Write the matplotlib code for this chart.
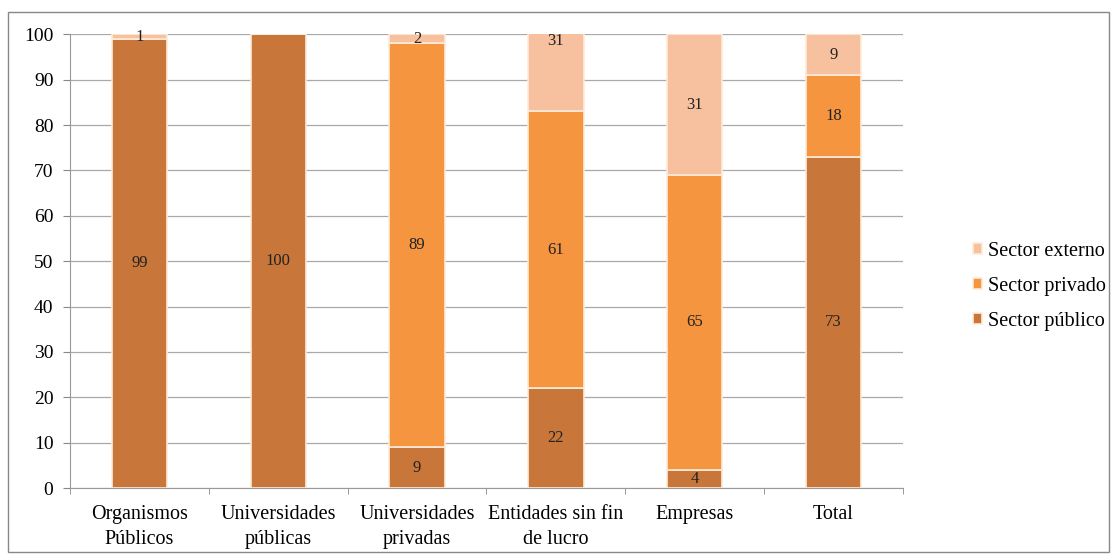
import matplotlib.pyplot as plt
from matplotlib.patches import Rectangle
import numpy as np

categories = ["Organismos\nPúblicos", "Universidades\npúblicas", "Universidades\nprivadas",
              "Entidades sin fin\nde lucro", "Empresas", "Total"]
publico = [99, 100, 9, 22, 4, 73]
privado = [0, 0, 89, 61, 65, 18]
externo = [1, 0, 2, 31, 31, 9]
series_names = ["Sector público", "Sector privado", "Sector externo"]
colors = ["#C8763A", "#F5953F", "#F7C09F"]

plt.rcParams['font.family'] = ['Liberation Serif', 'DejaVu Serif']

fig = plt.figure(figsize=(11.12, 5.54), dpi=100)
ax = fig.add_axes([0.063, 0.119, 0.749, 0.819])

x = np.arange(len(categories))
width = 0.4
bottom = np.zeros(len(categories))
handles = []
for vals, name, col in zip([publico, privado, externo], series_names, colors):
    vals = np.array(vals, dtype=float)
    bars = ax.bar(x, vals, width, bottom=bottom, color=col, edgecolor="#FDEBD8",
                  linewidth=1.2, label=name, zorder=3)
    handles.append(bars)
    for xi, b, v in zip(x, bottom, vals):
        if v > 0:
            ax.text(xi, b + v / 2, f"{int(v)}", ha="center", va="center",
                    fontsize=12, color="#222222", zorder=4, clip_on=False)
    bottom += vals

ax.set_ylim(0, 100)
ax.set_xlim(-0.5, len(categories) - 0.5)
ax.set_yticks(range(0, 101, 10))
ax.set_xticks(x)
ax.set_xticklabels(categories, fontsize=14.5, linespacing=1.45)
ax.tick_params(axis="y", labelsize=14, length=5, color="#888888", pad=7)
ax.tick_params(axis="x", length=0, pad=12)
# category separator ticks on the x-axis
ax.set_xticks(np.arange(-0.5, len(categories)), minor=True)
ax.tick_params(axis="x", which="minor", length=4, color="#888888")

ax.grid(axis="y", color="#A9A9A9", linewidth=0.9, zorder=0)
for s in ["top", "right"]:
    ax.spines[s].set_visible(False)
ax.spines["left"].set_color("#999999")
ax.spines["bottom"].set_color("#999999")

leg = ax.legend(handles=handles[::-1], labels=series_names[::-1], loc="center left",
                bbox_to_anchor=(1.084, 0.445), frameon=False, fontsize=14.5,
                handlelength=0.45, handleheight=0.45, handletextpad=0.3,
                labelspacing=0.8, borderaxespad=0, borderpad=0)

# outer frame around the chart
fig.patches.append(Rectangle((0.007, 0.003), 0.99, 0.975, transform=fig.transFigure,
                             fill=False, edgecolor="#888888", linewidth=1.0))

fig.savefig("out.png", dpi=100)
